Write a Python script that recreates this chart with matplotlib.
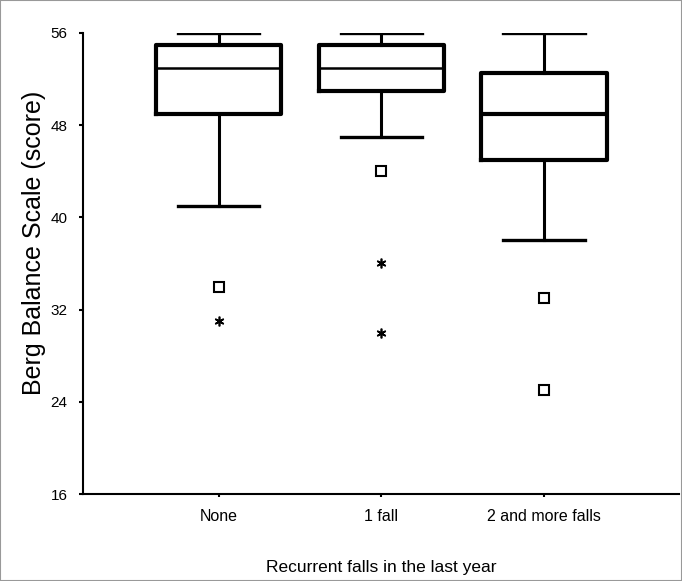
import matplotlib.pyplot as plt
from matplotlib.patches import Rectangle

plt.rcParams['font.family'] = ['Liberation Sans', 'DejaVu Sans']

# Dados (Berg Balance Scale por grupo de quedas)
grupos = ['None', '1 fall', '2 and more falls']
minimo = [41, 47, 38]
q1 = [49, 51, 45]
mediana = [53, 53, 49]
q3 = [55, 55, 52.5]
maximo = [56, 56, 56]
outliers_quadrado = [[34], [44], [33, 25]]
outliers_estrela = [[31], [36, 30], []]

stats = []
for i, g in enumerate(grupos):
    stats.append({'label': g, 'whislo': minimo[i], 'q1': q1[i], 'med': mediana[i],
                  'q3': q3[i], 'whishi': maximo[i], 'fliers': []})

fig = plt.figure(figsize=(6.82, 5.81), dpi=100)
fig.patches.append(Rectangle((0, 0), 1, 1, transform=fig.transFigure, fill=False,
                             edgecolor='#999999', linewidth=1.5))
ax = fig.add_axes([83 / 682, 1 - 494 / 581, 596 / 682, 461 / 581])

pos = [1, 2, 3]
ax.bxp(stats, positions=pos, widths=0.77, showfliers=False,
       boxprops=dict(linewidth=3.0, color='black'),
       medianprops=dict(linewidth=1.8, color='black'),
       whiskerprops=dict(linewidth=2.2, color='black'),
       capprops=dict(linewidth=2.4, color='black'),
       capwidths=0.5)
# a mediana do terceiro grupo é mais grossa
ax.lines[-1].set_linewidth(3.0)

for p, vals in zip(pos, outliers_quadrado):
    ax.plot([p] * len(vals), vals, linestyle='none', marker='s', markersize=7,
            markerfacecolor='white', markeredgecolor='black', markeredgewidth=1.5)
for p, vals in zip(pos, outliers_estrela):
    ax.plot([p] * len(vals), vals, linestyle='none', marker=(6, 2, 0), markersize=7,
            color='black', markeredgewidth=1.2)

ax.set_ylim(16, 56)
ax.set_xlim(0.165, 3.83)
ax.set_yticks([16, 24, 32, 40, 48, 56])
ax.set_xticks(pos)
ax.set_xticklabels(grupos, fontsize=11.5)
ax.tick_params(axis='y', labelsize=11, length=3, width=1.5, pad=8)
ax.tick_params(axis='x', length=2, width=1.5, pad=9)
for s in ['top', 'right']:
    ax.spines[s].set_visible(False)
for s in ['left', 'bottom']:
    ax.spines[s].set_linewidth(1.5)

ax.set_ylabel('Berg Balance Scale (score)', fontsize=18)
ax.yaxis.set_label_coords(-0.062, 0.545)
ax.set_xlabel('Recurrent falls in the last year', fontsize=12.5, labelpad=26)

fig.savefig('out.png', dpi=100)
